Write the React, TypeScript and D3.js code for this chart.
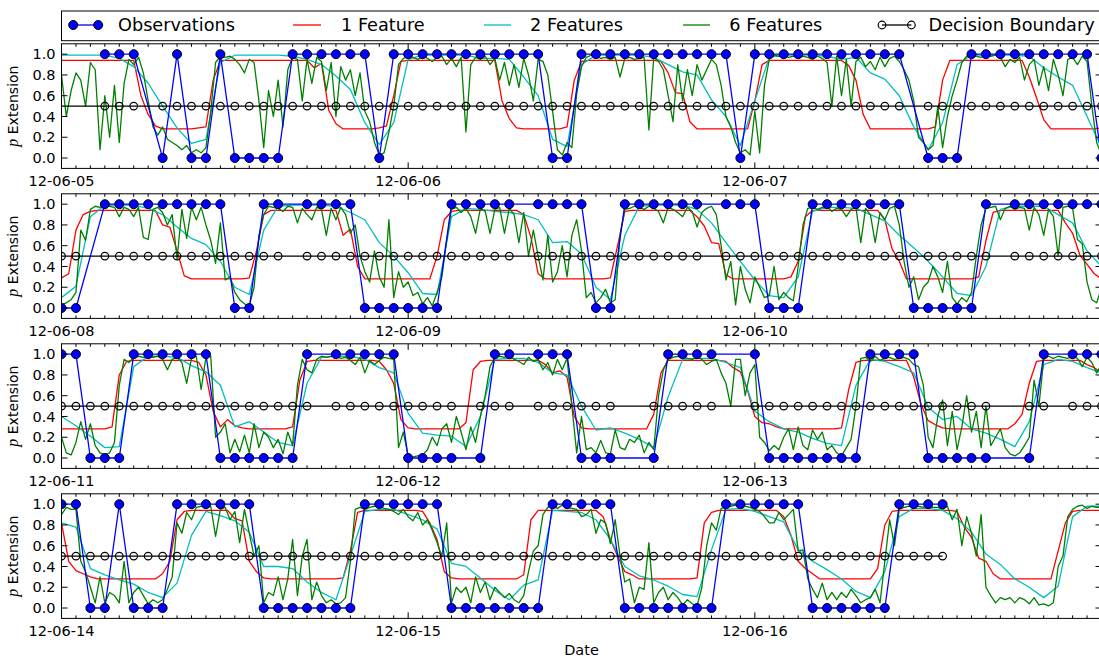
import React from "react";
import * as d3 from "d3";

// Record starts 2012-06-05 00:00 (UTC); four panels of three days each.
const START = Date.UTC(2012, 5, 5);
const HOUR = 3600 * 1000;
const DAY = 24 * HOUR;

// Hourly observations, one string per day: '1' extension, '0' none, '.' missing.
const observed: string[] = [
  "...111.01001000011111101",
  "111111111100111111111110",
  "11111111111.000111111111",
  "00.1111111110011.1111000",
  "00011111.111100111111.11",
  "10001111111000001.111111",
  "110001111110000001.11111",
  "0000.011.111000..01111..",
  "10000000111100000..01.11",
  "110010001111110000000111",
  "111000000011111000000011",
  "11110000001111..........",
];

// 1-feature model probability (%), every 30 minutes, one row per day.
const oneFeature: number[][] = [
  [94,94,94,94,94,94,94,94,94,94,94,60,42,31,28,28,28,28,28,29,30,75,94,94,94,94,94,94,94,94,94,94,94,94,94,87,91,46,33,28,28,28,28,28,29,31,60,93],
  [94,94,94,94,94,94,94,94,94,94,94,94,94,55,38,29,28,28,28,28,28,28,30,75,93,94,94,94,94,94,94,94,94,94,94,93,82,63,62,35,28,28,28,28,28,28,28,28],
  [55,90,94,94,94,94,94,94,94,94,94,94,94,89,75,42,28,28,28,28,28,28,28,28,28,30,75,94,94,94,94,94,94,94,94,94,94,94,78,58,37,28,28,28,28,28,28,28],
  [29,33,75,90,93,94,94,94,94,94,94,94,94,94,80,78,55,31,28,28,28,28,28,28,28,28,29,55,90,94,94,94,94,94,94,94,94,94,94,70,76,40,28,28,28,28,28,28],
  [28,28,28,28,50,85,93,94,94,94,94,94,94,94,94,94,90,68,33,28,28,28,28,28,28,28,28,28,29,60,93,94,94,94,94,94,94,94,94,94,88,79,63,62,32,28,28,28],
  [28,28,28,28,28,30,45,88,94,94,94,94,94,94,94,94,94,94,85,57,45,28,28,28,28,28,28,28,28,28,28,30,65,92,94,94,94,94,94,94,94,94,94,82,72,51,42,33],
  [28,28,28,28,28,28,28,30,80,93,94,94,94,94,94,94,94,94,94,92,80,45,30,37,31,29,28,28,28,28,28,28,30,75,93,94,94,94,94,94,94,94,94,94,93,85,72,37],
  [29,28,28,28,28,28,28,28,34,85,93,94,94,94,94,94,94,94,94,90,82,84,78,40,29,28,28,28,28,28,28,28,28,28,42,82,94,94,94,94,94,94,94,94,93,87,83,65],
  [40,34,33,30,28,28,28,28,28,28,28,28,29,66,92,94,94,94,94,94,94,94,78,52,36,32,29,28,28,28,28,28,28,28,28,28,33,42,72,93,94,94,94,94,94,94,90,87],
  [82,45,36,33,30,28,28,28,28,28,28,28,28,28,33,45,85,93,94,94,94,94,94,94,86,84,45,35,29,28,28,28,28,28,28,28,28,28,28,29,55,92,94,94,94,94,94,94],
  [94,94,93,82,66,35,29,28,28,28,28,28,28,28,28,28,32,85,94,94,94,94,94,94,94,94,94,88,66,50,35,32,28,28,28,28,28,28,28,28,29,82,92,94,94,94,94,94],
  [94,94,94,94,88,70,45,38,33,28,28,28,28,28,28,28,28,38,80,93,94,94,94,94,94,94,94,94,93,78,68,48,45,33,28,28,28,28,28,28,28,28,55,82,93,94,94,94,94],
];

// 2-feature model probability (%), hourly.
const twoFeatures: number[][] = [
  [99,99,99,99,96,88,72,50,29,14,18,92,99,99,99,99,98,95,90,79,66,34,13,34],
  [95,99,99,99,99,96,96,95,78,60,18,11,90,99,99,99,99,97,90,83,80,56,40,12],
  [55,97,99,99,99,98,95,97,82,76,60,30,8,34,90,99,99,99,99,98,87,78,70,40],
  [10,21,88,99,99,99,96,90,78,67,61,45,20,13,75,98,99,99,99,98,92,85,63,50],
  [34,14,13,88,96,95,93,92,90,85,63,64,52,20,8,70,98,99,99,99,95,82,63,45],
  [27,12,10,30,93,97,97,96,90,84,70,58,45,30,14,12,40,95,98,98,98,90,82,55],
  [40,31,21,10,11,88,98,98,97,89,83,70,30,35,25,15,12,72,97,98,98,95,87,82],
  [43,24,22,21,11,40,95,96,96,92,82,80,50,27,29,24,18,10,59,95,96,96,92,87],
  [45,35,28,25,19,14,12,70,95,93,88,82,49,37,40,28,24,18,11,35,90,95,93,87],
  [82,78,38,32,27,23,15,10,24,70,93,89,84,73,40,40,38,25,15,8,50,93,95,95],
  [90,85,76,43,40,29,17,8,22,27,94,93,92,85,66,40,31,27,21,13,11,56,95,96],
  [93,88,83,56,45,37,28,16,10,35,88,96,96,94,86,73,52,42,28,20,10,21,88,98,98],
];

// 6-feature model probability (%), every 20 minutes.
const sixFeatures: number[][] = [
  [80,40,65,82,75,50,92,85,8,60,20,70,15,72,95,90,97,82,55,30,22,30,18,15,12,8,12,5,8,5,10,45,92,98,97,98,95,90,82,95,92,55,10,65,40,75,30,85,97,95,55,95,72,97,93,65,92,40,88,75,85,60,82,45,35,15,3,5,25,50,90,96],
  [98,97,95,98,96,93,97,98,90,96,88,97,25,90,97,95,98,90,96,75,92,70,90,68,96,80,55,95,93,80,45,8,3,15,10,62,88,97,99,98,96,97,95,97,78,96,97,95,96,97,27,97,93,85,60,35,90,55,85,60,90,75,85,95,90,70,40,30,15,5,8,3],
  [45,5,70,95,99,98,99,97,98,96,98,97,95,98,96,92,50,98,60,95,50,93,97,88,93,85,97,88,96,98,93,85,75,55,20,15,8,12,50,10,40,60,75,92,98,99,98,97,99,98,99,97,88,95,92,97,75,90,95,70,88,65,95,80,60,95,97,90,98,93,50,15],
  [3,5,8,15,75,65,95,98,97,99,98,97,88,97,95,88,97,68,66,95,97,92,80,90,47,95,67,97,85,97,80,65,43,82,27,30,15,8,4,2,20,70,90,98,97,96,93,98,97,82,96,90,85,97,95,70,96,85,97,90,72,80,50,35,25,55,30,20,85,10,35,20],
  [25,12,15,4,10,2,15,30,65,95,97,92,96,88,72,96,93,72,95,97,72,96,90,63,92,50,75,50,27,70,25,35,60,30,70,85,55,10,15,5,10,18,5,8,70,95,96,98,97,95,98,96,93,82,97,95,92,88,97,93,78,92,96,98,90,60,27,45,3,40,18,5],
  [30,20,10,12,40,8,15,10,7,40,80,96,97,95,97,98,93,96,95,88,95,97,63,96,90,63,92,85,96,98,80,45,20,30,8,20,25,40,30,15,45,10,4,10,6,15,50,80,96,97,98,85,96,98,95,97,96,75,97,90,70,95,88,50,97,98,96,66,62,25,8,5],
  [20,5,3,15,35,18,33,12,5,3,5,15,70,95,92,97,98,97,98,97,98,95,85,95,97,92,72,96,98,66,97,98,20,25,33,5,18,6,22,5,33,10,25,20,10,18,4,25,12,70,95,85,82,95,98,97,98,98,96,97,94,90,97,82,94,90,94,97,96,95,10,25],
  [2,1,2,3,8,20,12,28,33,15,40,25,8,30,15,40,60,88,97,98,97,99,95,93,90,97,93,95,85,92,80,95,85,96,50,5,40,8,10,5,17,5,4,27,10,8,18,15,22,5,15,8,60,85,95,97,98,97,96,95,98,95,90,93,95,82,72,50,95,95,60,82],
  [90,20,15,7,12,8,20,28,8,30,12,8,27,18,25,8,12,5,2,10,18,50,96,97,93,98,94,96,97,95,96,97,95,90,88,70,20,10,40,56,12,45,8,30,60,25,45,10,50,12,20,28,10,4,2,5,12,20,75,50,95,98,96,98,97,96,98,96,88,97,92,82],
  [90,97,95,95,45,35,20,5,30,5,15,12,5,45,5,15,20,12,4,8,5,8,18,30,82,72,92,85,97,98,96,98,69,95,97,85,93,63,95,72,50,60,5,15,12,30,8,28,66,12,50,66,8,25,12,5,8,4,5,10,45,95,97,95,97,98,98,96,95,93,90,95],
  [88,84,92,80,85,75,63,50,82,5,20,15,20,5,30,15,25,8,20,15,10,14,8,5,12,35,55,60,90,97,98,96,99,97,96,95,88,90,95,72,85,82,62,85,50,25,28,5,20,18,63,5,15,20,8,15,10,3,8,4,2,20,60,82,75,96,97,98,99,96,98,97],
  [95,93,88,82,82,92,85,90,95,55,56,28,18,10,24,8,15,8,15,10,18,12,5,8,10,18,5,45,85,60,95,97,98,99,98,97,98,97,97,95,98,85,95,60,88,72,50,90,20,12,5,10,8,10,5,10,8,4,10,3,4,2,5,40,50,88,95,98,99,96,98,97,97],
];

const DECISION_BOUNDARY = 0.5;
const yTicks = [0, 0.2, 0.4, 0.6, 0.8, 1.0];
const legendItems = ["Observations", "1 Feature", "2 Features", "6 Features", "Decision Boundary"];

const COLORS = { obs: "#0000ff", one: "#ff0000", two: "#00bfbf", six: "#008000", boundary: "#000000" };

// Figure layout
const W = 1099;
const H = 661;
const X_LEFT = 61.5;
const X_RIGHT = 1101.5;
const PANEL_TOP = 43.8;
const PANEL_HEIGHT = 124.6;
const PANEL_STEP = 150;
const PANELS = 4;
const DAYS_PER_PANEL = 3;
const FONT = '"DejaVu Sans", Verdana, sans-serif';
const TICK_FONT = 14.5;
const LEGEND_FONT = 17.7;

type Pt = [number, number];

const toSeries = (rows: number[][], stepMin: number): Pt[] =>
  rows.flat().map((v, i) => [START + i * stepMin * 60000, v / 100] as Pt);

const oneSeries = toSeries(oneFeature, 30);
const twoSeries = toSeries(twoFeatures, 60);
const sixSeries = toSeries(sixFeatures, 20);

const obsPoints: Pt[] = observed.flatMap((row, d) =>
  row
    .split("")
    .map((c, h) => ({ c, t: START + (d * 24 + h) * HOUR }))
    .filter((o) => o.c !== ".")
    .map((o) => [o.t, Number(o.c)] as Pt)
);

const boundaryLine: Pt[] = [
  [START, DECISION_BOUNDARY],
  [obsPoints[obsPoints.length - 1][0], DECISION_BOUNDARY],
];

const fmtDay = d3.utcFormat("%y-%m-%d");

function Panel({ index }: { index: number }) {
  const t0 = START + index * DAYS_PER_PANEL * DAY;
  const t1 = t0 + DAYS_PER_PANEL * DAY;
  const top = PANEL_TOP + index * PANEL_STEP;
  const bottom = top + PANEL_HEIGHT;
  const x = d3.scaleUtc().domain([t0, t1]).range([X_LEFT, X_RIGHT]);
  const y = d3.scaleLinear().domain([-0.1, 1.1]).range([bottom, top]);
  const line = d3
    .line<Pt>()
    .x((d) => x(d[0]))
    .y((d) => y(d[1]));
  const within = (pts: Pt[], pad: number) => pts.filter((d) => d[0] >= t0 - pad && d[0] <= t1 + pad);
  const clipId = `plot-clip-${index}`;
  const hours = d3.range(0, DAYS_PER_PANEL * 24 + 1);
  const obsHere = within(obsPoints, 2 * HOUR);
  const boundaryHere = obsHere.filter((d) => d[0] >= t0 - HOUR && d[0] <= t1 + HOUR);

  return (
    <g>
      <defs>
        <clipPath id={clipId}>
          <rect x={X_LEFT} y={top} width={X_RIGHT - X_LEFT} height={PANEL_HEIGHT} />
        </clipPath>
      </defs>
      <g clipPath={`url(#${clipId})`} fill="none" strokeWidth={1.3} strokeLinejoin="round">
        <path d={line(within(oneSeries, HOUR)) || ""} stroke={COLORS.one} />
        <path d={line(within(twoSeries, 2 * HOUR)) || ""} stroke={COLORS.two} />
        <path d={line(within(sixSeries, HOUR)) || ""} stroke={COLORS.six} />
        <path d={line(obsHere) || ""} stroke={COLORS.obs} />
        {obsHere.map((d, i) => (
          <circle key={`o${i}`} cx={x(d[0])} cy={y(d[1])} r={4.5} fill={COLORS.obs} stroke="#000" strokeWidth={1} />
        ))}
        <path d={line(boundaryLine.map((d) => [Math.max(d[0], t0 - HOUR), d[1]] as Pt)) || ""} stroke={COLORS.boundary} strokeWidth={1.4} />
        {boundaryHere.map((d, i) => (
          <circle key={`b${i}`} cx={x(d[0])} cy={y(DECISION_BOUNDARY)} r={3.8} fill="none" stroke="#000" strokeWidth={1.2} />
        ))}
      </g>
      {/* frame */}
      <rect x={X_LEFT} y={top} width={X_RIGHT - X_LEFT} height={PANEL_HEIGHT} fill="none" stroke="#000" strokeWidth={1} />
      {/* hour ticks, top and bottom, pointing inward */}
      {hours.map((h) => {
        const xx = x(t0 + h * HOUR);
        const len = h % 24 === 0 ? 6 : 3;
        return (
          <g key={`t${h}`} stroke="#000" strokeWidth={1}>
            <line x1={xx} x2={xx} y1={bottom} y2={bottom - len} />
            <line x1={xx} x2={xx} y1={top} y2={top + len} />
          </g>
        );
      })}
      {d3.range(0, DAYS_PER_PANEL).map((d) => (
        <text key={`dl${d}`} x={x(t0 + d * DAY)} y={bottom + 17.7} textAnchor="middle" fontSize={TICK_FONT}>
          {fmtDay(new Date(t0 + d * DAY))}
        </text>
      ))}
      {yTicks.map((v) => (
        <g key={`y${v}`}>
          <line x1={X_LEFT} x2={X_LEFT + 6} y1={y(v)} y2={y(v)} stroke="#000" strokeWidth={1} />
          <line x1={X_RIGHT} x2={X_RIGHT - 6} y1={y(v)} y2={y(v)} stroke="#000" strokeWidth={1} />
          <text x={X_LEFT - 6} y={y(v)} dy="0.36em" textAnchor="end" fontSize={TICK_FONT}>
            {d3.format(".1f")(v)}
          </text>
        </g>
      ))}
      <text transform={`translate(18, ${(top + bottom) / 2}) rotate(-90)`} textAnchor="middle" fontSize={14}>
        <tspan fontFamily='"Liberation Serif", "DejaVu Serif", serif' fontStyle="italic" fontSize={16}>
          p
        </tspan>
        {" Extension"}
      </text>
    </g>
  );
}

function Legend() {
  const cy = 25;
  const handles = [
    { x1: 73.2, x2: 98.2, tx: 118, color: COLORS.obs, kind: "obs" },
    { x1: 293, x2: 321, tx: 341, color: COLORS.one, kind: "line" },
    { x1: 484, x2: 511, tx: 530, color: COLORS.two, kind: "line" },
    { x1: 683, x2: 710, tx: 729.3, color: COLORS.six, kind: "line" },
    { x1: 882, x2: 911.4, tx: 928.6, color: COLORS.boundary, kind: "boundary" },
  ];
  return (
    <g>
      <rect x={X_LEFT} y={11} width={X_RIGHT - X_LEFT} height={29.7} fill="#fff" stroke="#000" strokeWidth={1} />
      {handles.map((h, i) => (
        <g key={i}>
          <line x1={h.x1} x2={h.x2} y1={cy} y2={cy} stroke={h.color} strokeWidth={1.3} />
          {h.kind === "obs" &&
            [h.x1, h.x2].map((cx) => (
              <circle key={cx} cx={cx} cy={cy} r={4.5} fill={COLORS.obs} stroke="#000" strokeWidth={1} />
            ))}
          {h.kind === "boundary" &&
            [h.x1, h.x2].map((cx) => (
              <circle key={cx} cx={cx} cy={cy} r={3.8} fill="none" stroke="#000" strokeWidth={1.2} />
            ))}
          <text x={h.tx} y={cy} dy="0.36em" fontSize={LEGEND_FONT}>
            {legendItems[i]}
          </text>
        </g>
      ))}
    </g>
  );
}

export default function App() {
  return (
    <svg
      width={W}
      height={H}
      viewBox={`0 0 ${W} ${H}`}
      style={{ position: "absolute", left: 0, top: 0, display: "block" }}
      fontFamily={FONT}
    >
      <rect width={W} height={H} fill="#fff" />
      {d3.range(PANELS).map((p) => (
        <Panel key={p} index={p} />
      ))}
      <Legend />
      <text x={(X_LEFT + X_RIGHT) / 2} y={655} textAnchor="middle" fontSize={TICK_FONT}>
        Date
      </text>
    </svg>
  );
}
